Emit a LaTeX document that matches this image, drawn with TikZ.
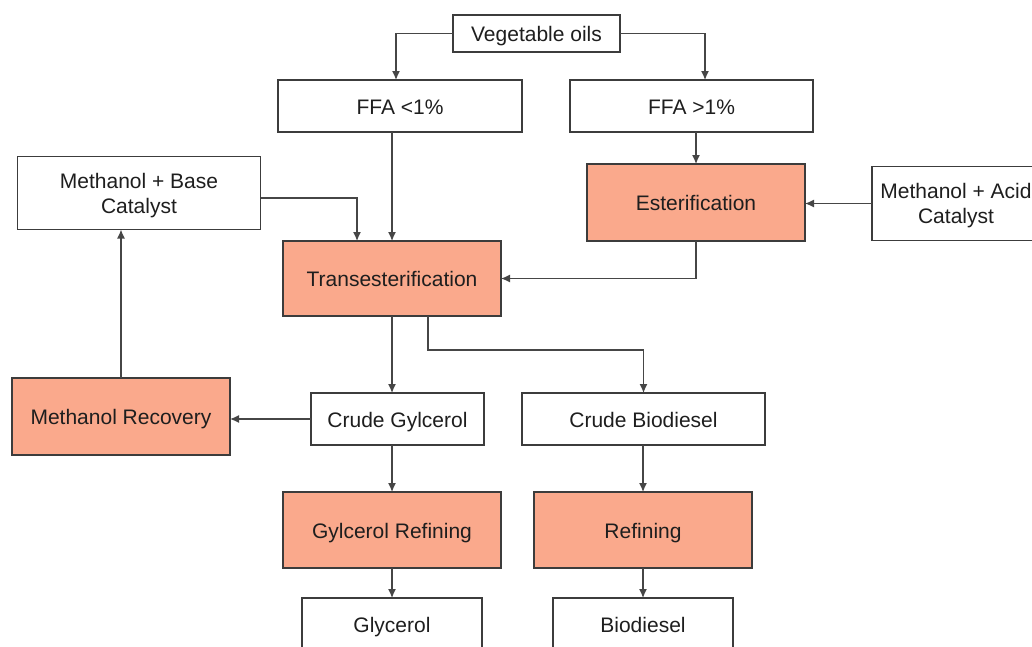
\documentclass[tikz,border=0pt]{standalone}
\usepackage{fontspec}
\setmainfont{Liberation Sans}
\usetikzlibrary{arrows.meta,calc}
\definecolor{salmon}{RGB}{250,169,140}
\definecolor{edge}{RGB}{60,60,60}
\definecolor{wire}{RGB}{70,70,70}
\definecolor{ink}{RGB}{30,30,30}
\tikzset{
  box/.style={draw=edge, line width=1.3pt, fill=white, rectangle, inner sep=0pt, outer sep=0pt,
    align=center, text=ink, font=\fontsize{21}{25}\selectfont, text depth=0pt},
  one/.style={text height=16pt},
  hot/.style={box, fill=salmon},
  arr/.style={draw=wire, line width=1.3pt, -{Latex[length=9pt,width=8pt]}},
}
\begin{document}
\begin{tikzpicture}[x=1pt,y=-1pt]
\useasboundingbox (0,0) rectangle (1032,646);
\clip (0,0) rectangle (1032,646);
\node[box, one, minimum width=167pt, minimum height=37pt] (veg) at (536.5,33.5) {Vegetable oils};
\node[box, one, minimum width=244pt, minimum height=52pt] (ffa1) at (400,106) {FFA <1\%};
\node[box, one, minimum width=243pt, minimum height=52pt] (ffa2) at (691.5,106) {FFA >1\%};
\node[box, minimum width=243pt, minimum height=73pt] (base) at (139,193) {Methanol + Base\\Catalyst};
\node[hot, one, minimum width=218pt, minimum height=77pt] (ester) at (696,202.5) {Esterification};
\node[box, minimum width=168pt, minimum height=74pt] (acid) at (956,203.5) {Methanol + Acid\\Catalyst};
\node[hot, one, minimum width=218pt, minimum height=75pt] (trans) at (392,278.5) {Transesterification};
\node[hot, one, minimum width=218pt, minimum height=77pt] (mrec) at (121,416.5) {Methanol Recovery};
\node[box, one, minimum width=173pt, minimum height=52pt] (cglyc) at (397.5,419) {Crude Gylcerol};
\node[box, one, minimum width=243pt, minimum height=52pt] (cbio) at (643.5,419) {Crude Biodiesel};
\node[hot, one, minimum width=218pt, minimum height=76pt] (grefine) at (392,530) {Gylcerol Refining};
\node[hot, one, minimum width=218pt, minimum height=76pt] (refine) at (643,530) {Refining};
\node[box, one, minimum width=180pt, minimum height=52pt] (glyc) at (392,624) {Glycerol};
\node[box, one, minimum width=180pt, minimum height=52pt] (bio) at (643,624) {Biodiesel};

\draw[arr] (veg.west) -| ([xshift=-4pt]ffa1.north);
\draw[arr] (veg.east) -| ([xshift=13.5pt]ffa2.north);
\draw[arr] (ffa1.south -| trans.north) -- (trans.north);
\draw[arr] ([yshift=-5pt]base.east) -| ([xshift=-35pt]trans.north);
\draw[arr] (ffa2.south -| ester.north) -- (ester.north);
\draw[arr] (acid.west) -- (acid.west -| ester.east);
\draw[arr] (ester.south) |- (trans.east);
\draw[arr] (trans.south) -- (trans.south |- cglyc.north);
\draw[arr] ([xshift=36pt]trans.south) -- ++(0,34) -| (cbio.north);
\draw[arr] (cglyc.west) -- (cglyc.west -| mrec.east);
\draw[arr] (mrec.north) -- (mrec.north |- base.south);
\draw[arr] (cglyc.south -| grefine.north) -- (grefine.north);
\draw[arr] (cbio.south -| refine.north) -- (refine.north);
\draw[arr] (grefine.south) -- (glyc.north);
\draw[arr] (refine.south) -- (bio.north);
\end{tikzpicture}
\end{document}
